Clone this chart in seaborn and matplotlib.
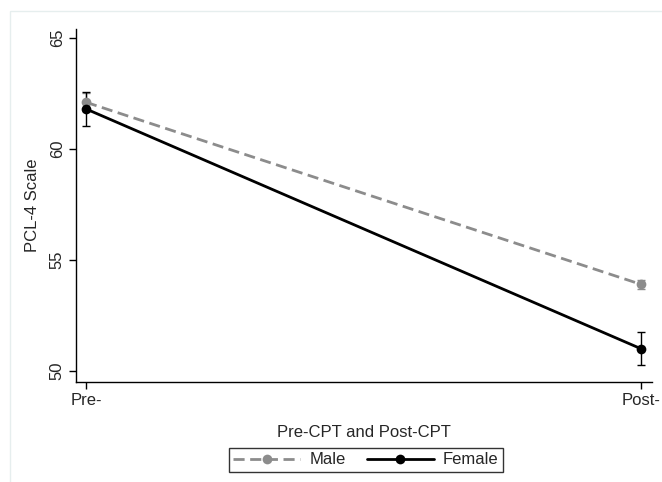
import numpy as np
import pandas as pd
import matplotlib
matplotlib.use("Agg")
import matplotlib.pyplot as plt
import seaborn as sns
from matplotlib.patches import Rectangle

# values
timepoints = ["Pre-", "Post-"]
groups = ["Male", "Female"]
male_mean = [62.1, 53.9]
male_err = [0.4, 0.2]
female_mean = [61.8, 51.0]
female_err = [0.75, 0.75]

colors = {"Male": "#8c8c8c", "Female": "black"}
dashes = {"Male": (4, 2), "Female": ""}

sns.set_style("white")
plt.rcParams["font.family"] = ["Liberation Sans", "DejaVu Sans"]
fs = 12

df = pd.DataFrame({
    "time": [0, 1, 0, 1],
    "group": ["Male", "Male", "Female", "Female"],
    "score": male_mean + female_mean,
    "err": male_err + female_err,
})

fig = plt.figure(figsize=(6.62, 4.82), dpi=100)
# light outer frame
fig.patches.append(Rectangle((10 / 662, -0.1), 1.2, 1 - 11 / 482 + 0.1,
                             transform=fig.transFigure, fill=False,
                             edgecolor="#e6eeee", lw=1))
ax = fig.add_axes([76 / 662, 1 - 382 / 482, 576 / 662, 353 / 482])

for g in groups:
    sub = df[df["group"] == g]
    ax.errorbar(sub["time"], sub["score"], yerr=sub["err"], fmt="none",
                ecolor=colors[g], elinewidth=1, capsize=3, capthick=1, zorder=2)

sns.lineplot(data=df, x="time", y="score", hue="group", style="group",
             hue_order=groups, style_order=groups, palette=colors,
             dashes=dashes, markers={"Male": "o", "Female": "o"},
             markersize=7, markeredgewidth=0, lw=2, ax=ax, zorder=3)

ax.set_xlim(-0.018, 1.02)
ax.set_ylim(49.5, 65.4)
ax.set_xticks([0, 1])
ax.set_xticklabels(timepoints)
ax.set_yticks([50, 55, 60, 65])
ax.set_yticklabels(["50", "55", "60", "65"], rotation=90, va="center")
ax.tick_params(axis="both", length=5, width=1, color="black", labelsize=fs,
               direction="out", bottom=True, left=True, pad=3)
ax.set_xlabel("Pre-CPT and Post-CPT", fontsize=fs, labelpad=12)
ax.set_ylabel("PCL-4 Scale", fontsize=fs, labelpad=7)
sns.despine(ax=ax)
for s in ["left", "bottom"]:
    ax.spines[s].set_color("black")
    ax.spines[s].set_linewidth(1)

ax.get_legend().remove()
handles, labels = ax.get_legend_handles_labels()
leg = fig.legend(handles[:2], labels[:2], loc="center",
                 bbox_to_anchor=(366 / 662, 1 - 460 / 482), ncol=2,
                 frameon=True, fancybox=False, edgecolor="black",
                 handlelength=4.0, columnspacing=1.3, fontsize=fs,
                 borderpad=0.25, handletextpad=0.55)
leg.get_frame().set_linewidth(1)

fig.savefig("out.png", dpi=100)
